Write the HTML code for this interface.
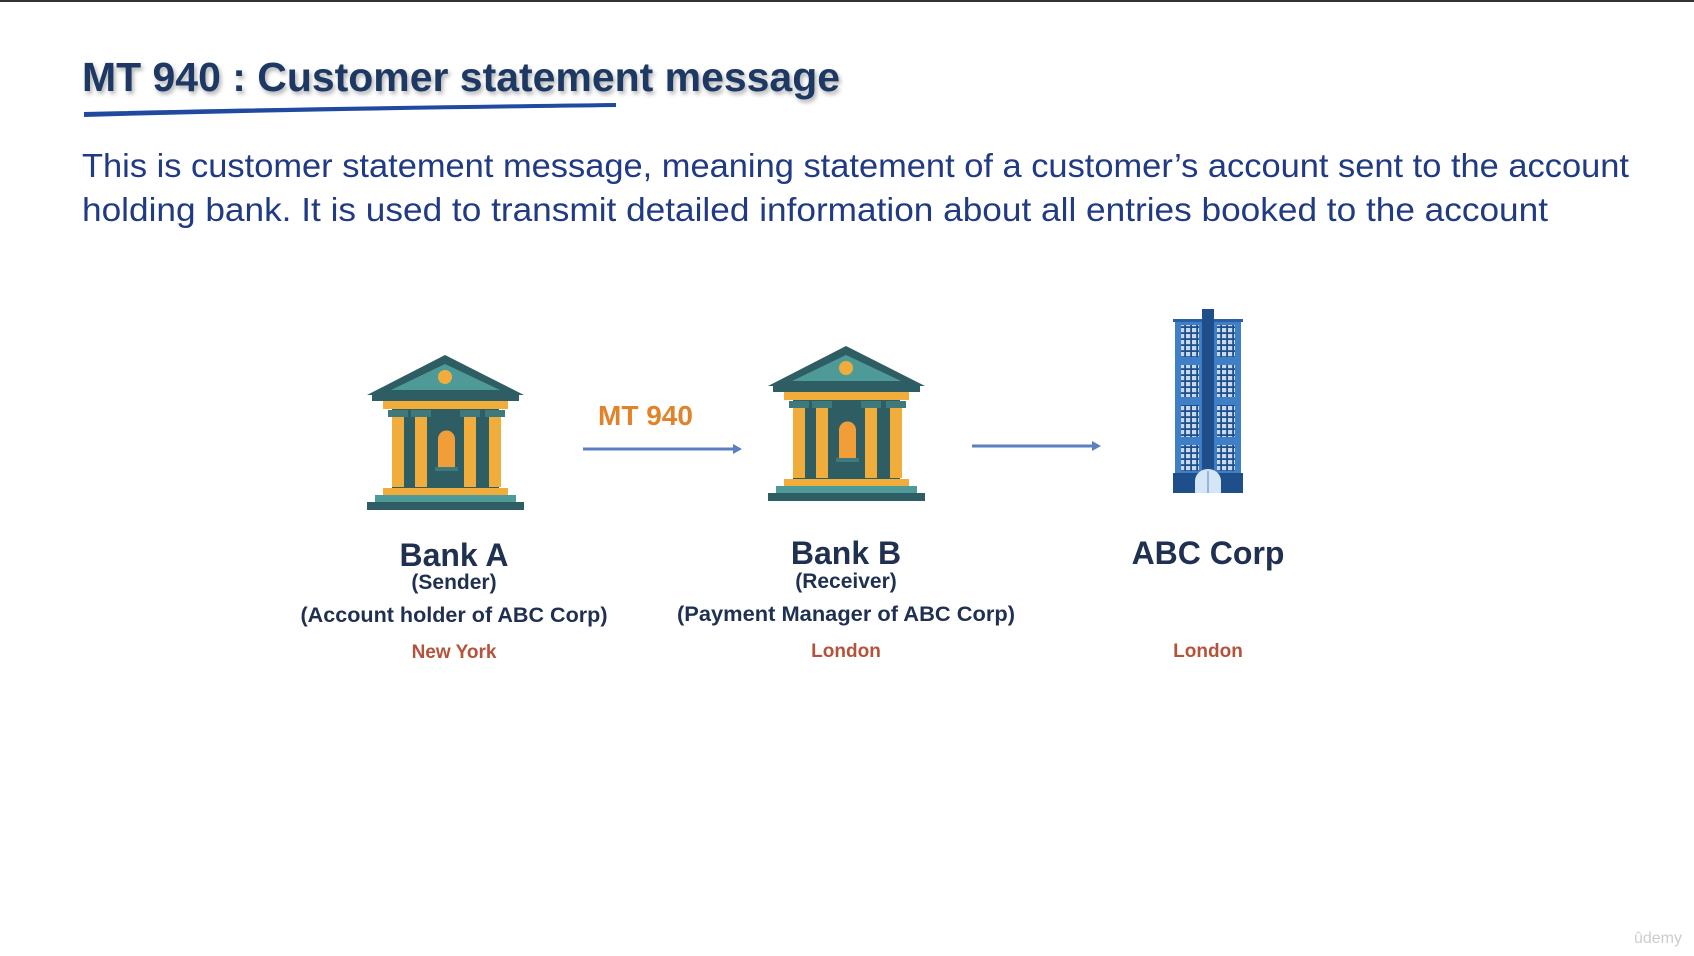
<!DOCTYPE html>
<html><head><meta charset="utf-8"><style>
html,body{margin:0;padding:0;background:#fff;width:1694px;height:956px;overflow:hidden}
svg{display:block}
text{font-family:"Liberation Sans",sans-serif}
</style></head><body>
<svg width="1694" height="956" viewBox="0 0 1694 956">
<defs>
<filter id="sh" x="-5%" y="-20%" width="110%" height="150%"><feDropShadow dx="2" dy="3" stdDeviation="2" flood-color="#000" flood-opacity="0.3"/></filter>
<g id="bank">
  <polygon points="78,0 0,40 157,40" fill="#2e5e63"/>
  <polygon points="78,9 24,35 133,35" fill="#4e9a98"/>
  <circle cx="78" cy="22" r="7" fill="#f0ad3c"/>
  <rect x="5" y="38" width="147" height="8" fill="#2e5e63"/>
  <rect x="16" y="46" width="125" height="8" fill="#f0ad3c"/>
  <rect x="25" y="54" width="107" height="81" fill="#2e5e63"/>
  <rect x="21" y="55" width="20" height="7" fill="#3e7a7c"/>
  <rect x="44" y="55" width="20" height="7" fill="#3e7a7c"/>
  <rect x="93" y="55" width="20" height="7" fill="#3e7a7c"/>
  <rect x="118" y="55" width="20" height="7" fill="#3e7a7c"/>
  <rect x="25" y="62" width="12" height="70" fill="#f0ad3c"/>
  <rect x="48" y="62" width="12" height="70" fill="#f0ad3c"/>
  <rect x="97" y="62" width="12" height="70" fill="#f0ad3c"/>
  <rect x="122" y="62" width="12" height="70" fill="#f0ad3c"/>
  <path d="M71,113 V84 A8.5,8.5 0 0 1 88,84 V113 Z" fill="#f29e38"/>
  <rect x="68" y="112" width="23" height="4" fill="#3e7a7c"/>
  <rect x="16" y="133" width="125" height="7" fill="#f0ad3c"/>
  <rect x="8" y="140" width="141" height="7" fill="#4e9a98"/>
  <rect x="0" y="147" width="157" height="8" fill="#2e5e63"/>
</g>
<pattern id="win" width="6" height="6" patternUnits="userSpaceOnUse"><rect width="6" height="6" fill="#1f4f8a"/><rect x="1" y="1" width="4.2" height="4.2" fill="#c9d9ec"/></pattern>
</defs>
<rect x="0" y="0" width="1694" height="2" fill="#333"/>
<text x="82" y="91" font-size="41" font-weight="bold" fill="#1f3864" filter="url(#sh)" textLength="758" lengthAdjust="spacingAndGlyphs">MT 940 : Customer statement message</text>
<path d="M84,112 C250,108 450,105 616,103 L616,107 C450,109 250,112 84,117 Z" fill="#1f4aa0"/>
<text font-size="33" fill="#203a83">
<tspan x="82" y="177" textLength="1547" lengthAdjust="spacingAndGlyphs">This is customer statement message, meaning statement of a customer’s account sent to the account</tspan>
<tspan x="82" y="221" textLength="1466" lengthAdjust="spacingAndGlyphs">holding bank. It is used to transmit detailed information about all entries booked to the account</tspan>
</text>
<use href="#bank" x="367" y="355"/>
<use href="#bank" x="768" y="346"/>
<g transform="translate(1173,309)">
  <rect x="2" y="10" width="66" height="162" fill="#3f7fc8"/>
  <rect x="0" y="10" width="70" height="3" fill="#2a5fa6"/>
  <rect x="29" y="0" width="12" height="184" fill="#1f4f8a"/>
  <rect x="8" y="16" width="18" height="32" fill="url(#win)"/>
  <rect x="44" y="16" width="18" height="32" fill="url(#win)"/>
  <rect x="8" y="56" width="18" height="32" fill="url(#win)"/>
  <rect x="44" y="56" width="18" height="32" fill="url(#win)"/>
  <rect x="8" y="96" width="18" height="32" fill="url(#win)"/>
  <rect x="44" y="96" width="18" height="32" fill="url(#win)"/>
  <rect x="8" y="136" width="18" height="26" fill="url(#win)"/>
  <rect x="44" y="136" width="18" height="26" fill="url(#win)"/>
  <rect x="0" y="164" width="70" height="20" fill="#1f4f8a"/>
  <path d="M22,184 V172 A13,12 0 0 1 48,172 V184 Z" fill="#d4e6f6"/>
  <line x1="35" y1="162" x2="35" y2="184" stroke="#5b84b8" stroke-width="1"/>
</g>
<text x="598" y="425" font-size="28" font-weight="bold" fill="#e0832a">MT 940</text>
<g><line x1="583" y1="449" x2="736" y2="449" stroke="#5b7fc0" stroke-width="3"/><polygon points="742,449 733,444 733,454" fill="#5b7fc0"/></g>
<g><line x1="972" y1="446" x2="1095" y2="446" stroke="#5b7fc0" stroke-width="3"/><polygon points="1101,446 1092,441 1092,451" fill="#5b7fc0"/></g>
<g text-anchor="middle" font-weight="bold">
<text x="454" y="566" font-size="32" fill="#1f3050">Bank A</text>
<text x="454" y="589" font-size="21" fill="#1f3050">(Sender)</text>
<text x="454" y="622" font-size="21" fill="#1f3050" textLength="307" lengthAdjust="spacingAndGlyphs">(Account holder of ABC Corp)</text>
<text x="454" y="658" font-size="19" fill="#b5523b">New York</text>
<text x="846" y="564" font-size="32" fill="#1f3050">Bank B</text>
<text x="846" y="588" font-size="21" fill="#1f3050">(Receiver)</text>
<text x="846" y="621" font-size="21" fill="#1f3050" textLength="338" lengthAdjust="spacingAndGlyphs">(Payment Manager of ABC Corp)</text>
<text x="846" y="657" font-size="19" fill="#b5523b">London</text>
<text x="1208" y="564" font-size="32" fill="#1f3050">ABC Corp</text>
<text x="1208" y="657" font-size="19" fill="#b5523b">London</text>
</g>
<text x="1682" y="943" font-size="16" fill="#ccc" text-anchor="end">ûdemy</text>
</svg>
</body></html>
